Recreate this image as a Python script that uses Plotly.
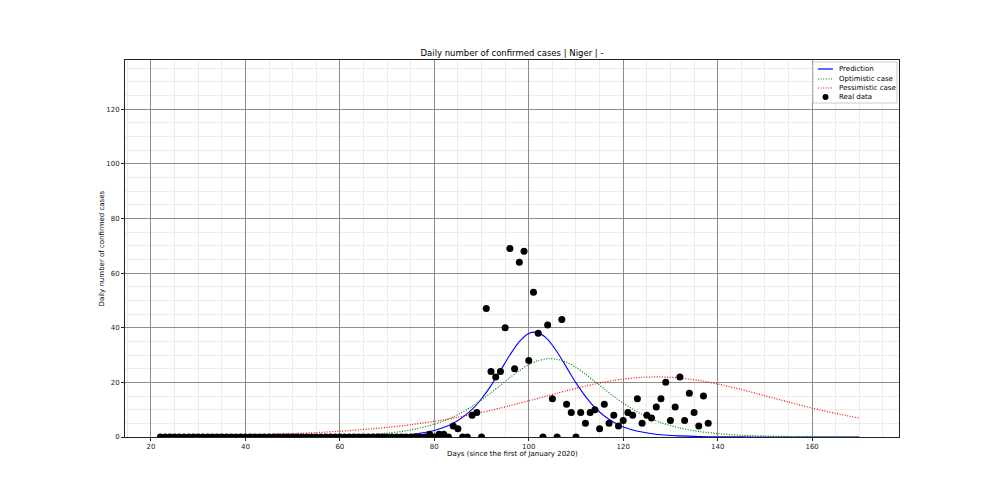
import plotly.graph_objects as go

# Real data (day since 1 Jan 2020, daily confirmed cases)
days_real = list(range(22, 139))
cases_real = [0] * 57 + [
    1, 0, 1, 1, 0, 4, 3, 0, 0, 8, 9, 0,            # 79-90
    47, 24, 22, 24, 40, 69, 25, 64, 68, 28,        # 91-100
    53, 38, 0, 41, 14, 0, 43, 12, 9, 0,            # 101-110
    9, 5, 9, 10, 3, 12, 5, 8, 4, 6,                # 111-120
    9, 8, 14, 5, 8, 7, 11, 14, 20, 6,              # 121-130
    11, 22, 6, 16, 9, 4, 15, 5                     # 131-138
]

# Model curves
days_curve = [22, 30, 40, 50, 60, 70, 75, 80, 84, 88, 90, 92, 94, 96, 98, 100,
              102, 104, 106, 108, 110, 112, 114, 116, 118, 120, 124, 128, 132,
              136, 140, 145, 150, 155, 160, 165, 170]
prediction = [0.0, 0.0, 0.0, 0.01, 0.05, 0.35, 0.92, 2.38, 5.0, 10.1,
              14.0, 18.8, 24.3, 30.0, 34.9, 37.9, 38.2, 35.7, 31.1, 25.5,
              19.8, 14.9, 10.8, 7.7, 5.4, 3.7, 1.8, 0.8, 0.4, 0.17, 0.08,
              0.03, 0.01, 0.0, 0.0, 0.0, 0.0]
optimistic = [0.003, 0.009, 0.03, 0.11, 0.40, 1.40, 2.59, 4.68, 7.36, 11.19,
              13.56, 16.18, 18.95, 21.72, 24.31, 26.48, 27.98, 28.67, 28.44,
              27.33, 25.47, 23.07, 20.35, 17.56, 14.86, 12.35, 8.21, 5.26,
              3.29, 2.03, 1.24, 0.66, 0.36, 0.19, 0.10, 0.05, 0.03]
pessimistic = [0.27, 0.42, 0.72, 1.24, 2.10, 3.51, 4.51, 5.74, 6.91, 8.25,
               8.99, 9.78, 10.60, 11.46, 12.34, 13.25, 14.17, 15.11, 16.03,
               16.94, 17.81, 18.64, 19.41, 20.10, 20.71, 21.20, 21.85, 21.98,
               21.59, 20.71, 19.41, 17.38, 15.11, 12.79, 10.60, 8.62, 6.91]

legend_labels = ["Prediction", "Optimistic case", "Pessimistic case", "Real data"]

FONT = "DejaVu Sans"
BLUE, GREEN, RED = "#0000ff", "#008000", "#ff0000"
DOT = "1px,1.6px"

# plot-area geometry (pixels) used for the hand-drawn compact legend
L, R, T, B = 125, 899, 60, 437
def px(xp):
    return (xp - L) / (R - L)
def py(yp):
    return (B - yp) / (B - T)

fig = go.Figure()
fig.add_trace(go.Scatter(x=days_curve, y=prediction, mode="lines", name=legend_labels[0],
                         line=dict(color=BLUE, width=1.1, shape="spline", smoothing=0.8)))
fig.add_trace(go.Scatter(x=days_curve, y=optimistic, mode="lines", name=legend_labels[1],
                         line=dict(color=GREEN, width=1.2, dash=DOT, shape="spline", smoothing=0.8)))
fig.add_trace(go.Scatter(x=days_curve, y=pessimistic, mode="lines", name=legend_labels[2],
                         line=dict(color=RED, width=1.2, dash=DOT, shape="spline", smoothing=0.8)))
fig.add_trace(go.Scatter(x=days_real, y=cases_real, mode="markers", name=legend_labels[3],
                         marker=dict(color="black", size=7, line=dict(width=0))))

axis_common = dict(
    showline=True, linecolor="#222", linewidth=1, mirror=True,
    ticks="outside", ticklen=3, tickcolor="#222", tickwidth=1,
    showgrid=True, gridcolor="#8c8c8c", gridwidth=1,
    zeroline=False,
    tickfont=dict(family=FONT, size=7, color="#222"),
)

fig.update_xaxes(range=[14.5, 178.4], tick0=0, dtick=20,
                 minor=dict(dtick=5, tick0=0, showgrid=True, gridcolor="#ececec", gridwidth=1, ticks=""),
                 **axis_common)
fig.update_yaxes(range=[0, 138], tick0=0, dtick=20,
                 minor=dict(dtick=5, tick0=0, showgrid=True, gridcolor="#ececec", gridwidth=1, ticks=""),
                 **axis_common)

# compact legend (matplotlib style)
rows = [69, 79, 88, 97]
shapes = [dict(type="rect", xref="paper", yref="paper",
               x0=px(813), x1=px(897), y0=py(103), y1=py(62),
               line=dict(color="#cccccc", width=1), fillcolor="rgba(255,255,255,0.85)")]
for yrow, col, dash in zip(rows[:3], [BLUE, GREEN, RED], ["solid", DOT, DOT]):
    shapes.append(dict(type="line", xref="paper", yref="paper",
                       x0=px(818), x1=px(833), y0=py(yrow), y1=py(yrow),
                       line=dict(color=col, width=1.2, dash=dash)))
shapes.append(dict(type="circle", xref="paper", yref="paper",
                   x0=px(822.5), x1=px(828.5), y0=py(rows[3] + 3), y1=py(rows[3] - 3),
                   fillcolor="black", line=dict(width=0)))

annotations = [
    dict(text=lab, xref="paper", yref="paper", x=px(837), y=py(yrow),
         xanchor="left", yanchor="middle", showarrow=False,
         font=dict(family=FONT, size=7, color="black"))
    for lab, yrow in zip(legend_labels, rows)
]
annotations += [
    dict(text="Days (since the first of January 2020)", xref="paper", yref="paper",
         x=0.5, y=py(454), xanchor="center", yanchor="middle",
         showarrow=False, font=dict(family=FONT, size=7, color="black")),
    dict(text="Daily number of confirmed cases", xref="paper", yref="paper",
         x=px(101), y=0.5, xanchor="center", yanchor="middle", textangle=-90,
         showarrow=False, font=dict(family=FONT, size=7, color="black")),
]

fig.update_layout(
    width=1000, height=500,
    margin=dict(l=L, r=1000 - R, t=T, b=500 - B),
    paper_bgcolor="white", plot_bgcolor="white",
    title=dict(text="Daily number of confirmed cases | Niger | -",
               font=dict(family=FONT, size=8.5, color="black"),
               x=0.5, xref="paper", xanchor="center",
               y=1 - 53 / 500, yref="container", yanchor="middle"),
    showlegend=False,
    shapes=shapes,
    annotations=annotations,
)

fig.write_html("out.html")
